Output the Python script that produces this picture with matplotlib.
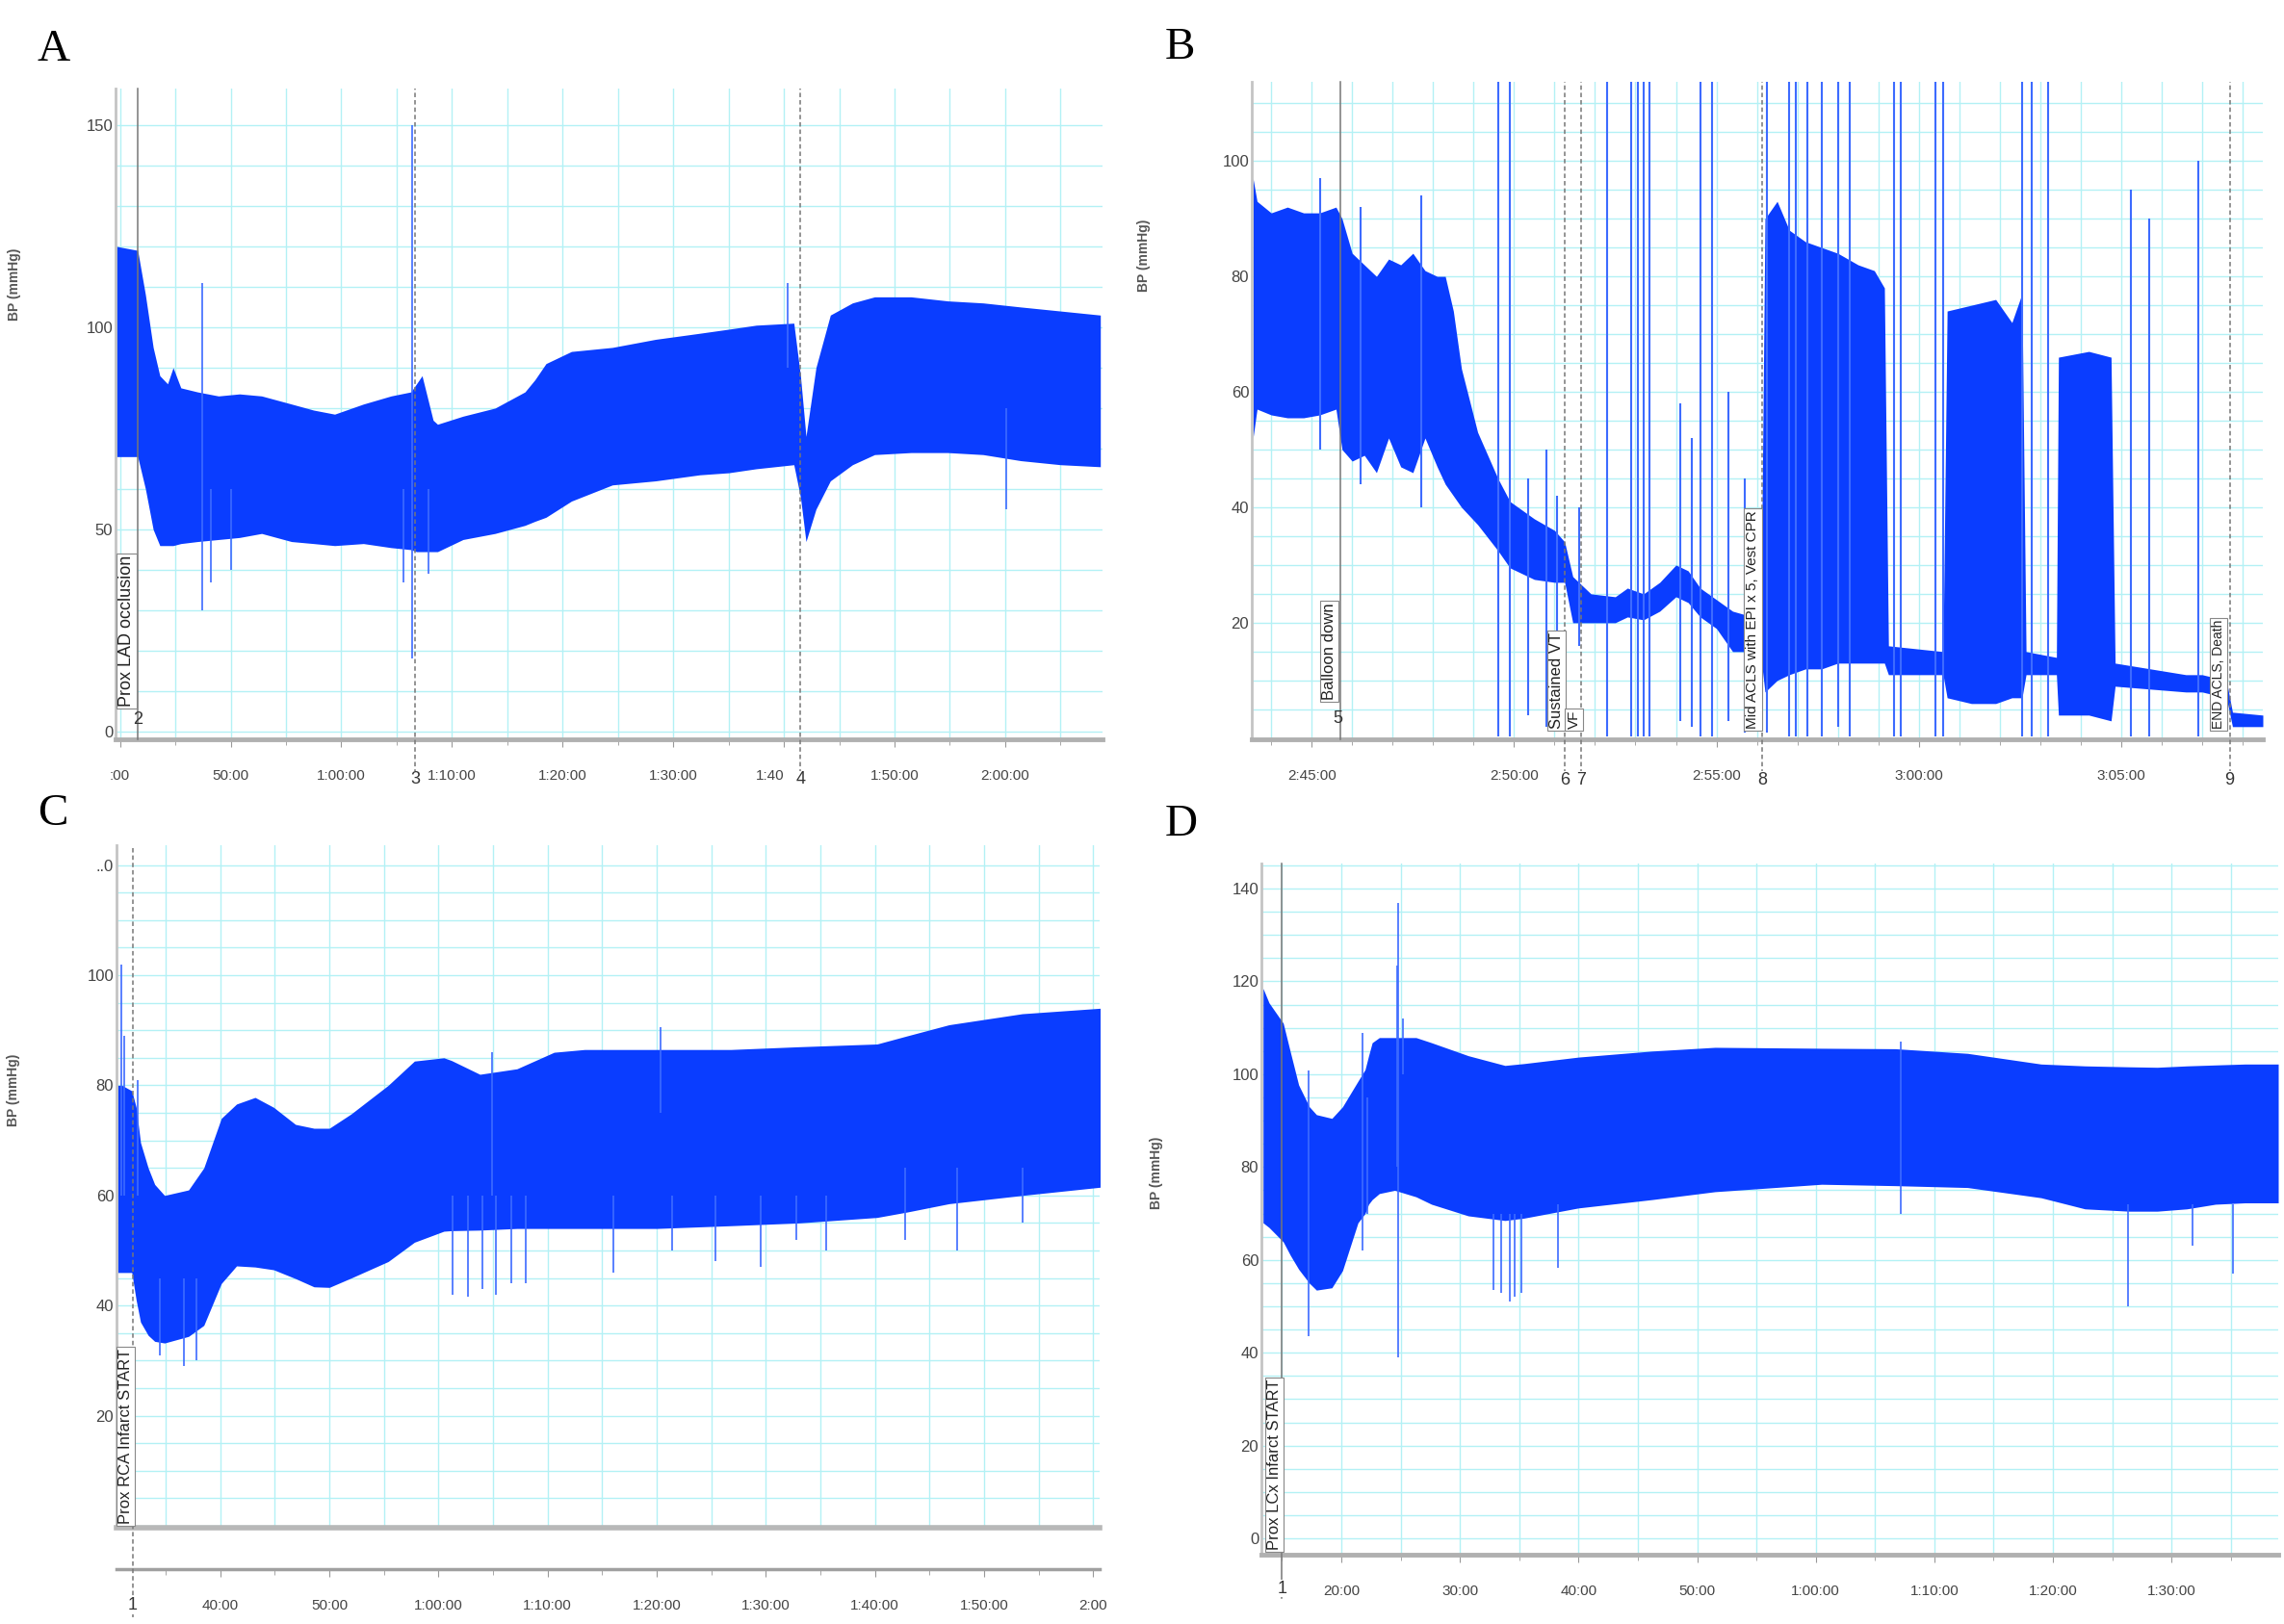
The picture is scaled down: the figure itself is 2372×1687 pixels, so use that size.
import matplotlib
matplotlib.use('Agg')
import matplotlib.pyplot as plt
from matplotlib.ticker import MultipleLocator, FixedLocator, FixedFormatter

plt.rcParams['font.family'] = ['Liberation Sans', 'DejaVu Sans']

W, H = 2372, 1687
BLUE = '#0a3dff'
SPIKE = '#3d6bff'
GRID = '#b3f1f5'

# ---- A: prox LAD occlusion (time in minutes, BP envelope in mmHg) ----
a_t = [39.65, 41.6, 42.3, 43.0, 43.6, 44.3, 44.8, 45.5, 47.0, 48.9, 50.8, 52.8, 55.5, 57.5,
       59.4, 62.0, 64.5, 66.3, 66.8, 67.3, 68.3, 68.7, 71.0, 73.9, 76.6, 77.5, 78.5, 80.8,
       84.5, 88.4, 92.4, 95.0, 97.5, 100.9, 101.5, 102.0, 102.9, 104.2, 106.2, 108.2, 111.5,
       114.8, 118.0, 121.4, 125.0, 128.6]
a_up = [120, 119, 108, 95, 88, 86, 90, 85, 84, 83, 83.5, 83, 81, 79.5, 78.5, 81, 83, 84, 86, 88,
        77, 76, 78, 80, 84, 87, 91, 94, 95, 97, 98.5, 99.5, 100.5, 101, 88, 73, 90, 103, 106,
        107.5, 107.5, 106.5, 106, 105, 104, 103]
a_lo = [68, 68, 60, 50, 46, 46, 46, 46.5, 47, 47.5, 48, 49, 47, 46.5, 46, 46.5, 45.5, 45, 44.5,
        44.5, 44.5, 44.5, 47.5, 49, 51, 52, 53, 57, 61, 62, 63.5, 64, 65, 66, 58, 47, 55, 62, 66,
        68.5, 69, 69, 68.5, 67, 66, 65.5]
a_spk_t = [47.4, 48.2, 50.0, 65.6, 66.4, 67.9, 100.3, 120.1]
a_spk_lo = [30, 37, 40, 37, 18, 39, 90, 55]
a_spk_hi = [111, 60, 60, 60, 150, 60, 111, 80]
a_xticks = [40, 50, 60, 70, 80, 90, 100, 110, 120]
a_xlabels = [':00', '50:00', '1:00:00', '1:10:00', '1:20:00', '1:30:00', '1:40', '1:50:00', '2:00:00']
a_yticks = [0, 50, 100, 150]
a_ylabels = ['0', '50', '100', '150']

# ---- B: balloon down, VT/VF, ACLS ----
b_t = [163.55, 163.65, 164.0, 164.4, 164.8, 165.2, 165.6, 165.75, 166.0, 166.3,
       166.6, 166.9, 167.2, 167.5, 167.8, 168.1, 168.3, 168.5, 168.7, 169.1,
       169.6, 169.9, 170.5, 171.0, 171.25, 171.45, 171.9, 172.5, 172.8, 173.2,
       173.6, 174.0, 174.3, 174.6, 175.0, 175.4, 175.9, 176.1, 176.2, 176.5,
       176.8, 177.2, 177.6, 178.0, 178.5, 178.9, 179.15, 179.25, 180.6, 180.7,
       181.3, 181.9, 182.3, 182.55, 182.65, 183.4, 183.45, 184.2, 184.75, 184.85,
       186.6, 187.0, 187.6, 187.75, 188.5]
b_up = [97, 93, 91, 92, 91, 91, 92, 90, 84, 82,
        80, 83, 82, 84, 81, 80, 80, 74, 64, 53,
        45, 41, 38, 36, 34, 28, 25, 24.5, 26, 25,
        27, 30, 29, 26, 24, 22, 21, 20, 90, 93,
        88, 86, 85, 84, 82, 81, 78, 16, 15, 74,
        75, 76, 72, 77, 15, 14, 66, 67, 66, 13,
        11, 11, 10, 4.5, 4]
b_lo = [52, 57, 56, 55.5, 55.5, 56, 57, 50, 48, 49,
        46, 52, 47, 46, 52, 47, 44, 42, 40, 37,
        32.5, 29.5, 27.5, 27, 27, 20, 20, 20, 21, 20.5,
        22, 24.5, 23.5, 21, 19, 15, 15, 14, 8, 10,
        11, 12, 12, 13, 13, 13, 13, 11, 11, 7,
        6, 6, 7, 7, 11, 11, 4, 4, 3, 9,
        8, 8, 7, 2, 2]
b_spk_t = [165.2, 166.2, 167.7, 169.6, 169.9, 170.35, 170.8, 171.05, 171.6, 172.3, 172.9, 173.05,
           173.2, 173.35, 174.1, 174.4, 174.6, 174.9, 175.3, 175.7, 176.25, 176.8, 176.95, 177.25,
           177.6, 178.0, 178.3, 179.4, 179.55, 180.4, 180.6, 182.55, 182.8, 183.2, 185.25, 185.7,
           186.9]
b_spk_lo = [50, 44, 40, 0.3, 0.3, 4, 2, 5, 16, 0.3, 0.3, 0.3, 0.3, 0.3, 3, 2, 0.3, 0.3, 3, 1, 1,
            0.3, 0.3, 0.3, 0.3, 2, 0.3, 0.3, 0.3, 0.3, 0.3, 0.3, 0.3, 0.3, 0.3, 0.3, 0.3]
b_spk_hi = [97, 92, 94, 118, 118, 45, 50, 42, 40, 118, 118, 118, 118, 118, 58, 52, 118, 118, 60,
            45, 118, 118, 118, 118, 118, 118, 118, 118, 118, 118, 118, 118, 118, 118, 95, 90, 100]
b_xticks = [165, 170, 175, 180, 185]
b_xlabels = ['2:45:00', '2:50:00', '2:55:00', '3:00:00', '3:05:00']
b_yticks = [20, 40, 60, 80, 100]
b_ylabels = ['20', '40', '60', '80', '100']

# ---- C: prox RCA infarct ----
c_t = [30.6, 31.0, 31.9, 32.3, 32.7, 33.4, 34.0, 34.9, 36.0, 37.1, 38.5, 40.1, 41.5, 43.2, 44.9,
       46.9, 48.6, 50.0, 52.0, 55.4, 57.8, 60.5, 61.2, 63.8, 67.2, 70.6, 73.4, 80.0, 86.8, 93.0,
       100.2, 103.0, 106.8, 113.5, 120.7]
c_up = [80, 80, 79, 76, 69.6, 65, 62, 60, 60.5, 61, 65, 74, 76.6, 77.8, 76, 72.9, 72.2, 72.2,
        74.8, 80, 84.4, 85, 84.5, 82, 83, 86, 86.5, 86.5, 86.5, 87, 87.5, 89, 91, 93, 94]
c_lo = [46, 46, 46, 41, 37, 34.6, 33.5, 33.2, 33.8, 34.4, 36.4, 44, 47.2, 47, 46.5, 44.9, 43.4,
        43.3, 45, 48, 51.5, 53.5, 53.6, 53.7, 54, 54, 54, 54, 54.5, 55, 56, 57, 58.5, 60, 61.5]
c_spk_t = [30.9, 31.2, 32.4, 34.5, 36.7, 37.8, 61.3, 62.7, 64.0, 64.9, 65.3, 66.7, 68.0, 76.0,
           80.4, 81.4, 85.4, 89.5, 92.8, 95.5, 102.8, 107.5, 113.5]
c_spk_lo = [60, 60, 60, 31, 29, 30, 42, 41.6, 43, 60, 42, 44, 44, 46, 75, 50, 48, 47, 52, 50, 52, 50, 55]
c_spk_hi = [102, 89, 81, 45, 45, 45, 60, 60, 60, 86, 60, 60, 60, 60, 90.5, 60, 60, 60, 60, 60, 65, 65, 65]
c_xticks = [40, 50, 60, 70, 80, 90, 100, 110, 120]
c_xlabels = ['40:00', '50:00', '1:00:00', '1:10:00', '1:20:00', '1:30:00', '1:40:00', '1:50:00', '2:00']
c_yticks = [20, 40, 60, 80, 100, 120]
c_ylabels = ['20', '40', '60', '80', '100', '..0']

# ---- D: prox LCx infarct ----
d_t = [13.4, 13.9, 15.1, 15.7, 16.4, 17.3, 17.9, 19.2, 20.1, 21.4, 22.0, 22.3, 22.6, 23.2, 24.5,
       26.3, 27.6, 30.7, 33.8, 35.4, 40.0, 46.2, 51.5, 60.5, 66.7, 72.8, 79.0, 82.7, 86.4, 88.8,
       91.3, 93.7, 96.2, 99.0]
d_up = [118.5, 115.4, 111, 104.8, 97.7, 93, 91.3, 90.5, 93, 98.5, 101, 104, 106.8, 107.9, 107.9,
        107.9, 106.8, 104, 101.9, 102.3, 103.7, 105, 105.8, 105.6, 105.5, 104.5, 102.2, 101.8,
        101.6, 101.5, 101.8, 102, 102.2, 102.2]
d_lo = [68, 67, 63.9, 61, 58, 55, 53.5, 54, 57.7, 68, 70, 72, 73, 74.3, 75, 73.6, 72, 69.5, 68.5,
        69, 71.2, 73, 74.7, 76.3, 76, 75.6, 73.4, 71, 70.5, 70.5, 71, 72, 72.3, 72.3]
d_spk_t = [17.2, 21.8, 22.2, 24.7, 24.8, 25.2, 32.8, 33.5, 34.2, 34.6, 35.2, 38.3, 67.2, 86.3, 91.8, 95.2]
d_spk_lo = [43.6, 62, 70, 80, 39, 100, 53.5, 53, 51, 52, 53, 58.3, 70, 50, 63, 57]
d_spk_hi = [100.8, 109, 95, 123.4, 137, 112, 70, 70, 70, 70, 70, 72, 107, 72, 72, 72]
d_xticks = [20, 30, 40, 50, 60, 70, 80, 90]
d_xlabels = ['20:00', '30:00', '40:00', '50:00', '1:00:00', '1:10:00', '1:20:00', '1:30:00']
d_yticks = [0, 20, 40, 60, 80, 100, 120, 140]
d_ylabels = ['0', '20', '40', '60', '80', '100', '120', '140']

fig = plt.figure(figsize=(W / 100, H / 100), dpi=100)


def panel(l, t, r, b, xlim, ylim, xt, xl, xminor, yt, yl, yminor):
    ax = fig.add_axes([l / W, 1 - b / H, (r - l) / W, (b - t) / H])
    ax.set_xlim(*xlim)
    ax.set_ylim(*ylim)
    for s in ['top', 'right']:
        ax.spines[s].set_visible(False)
    ax.spines['left'].set_color('#c4c4c4')
    ax.spines['left'].set_linewidth(2)
    ax.spines['bottom'].set_color('#b0b0b0')
    ax.spines['bottom'].set_linewidth(3.5)
    ax.xaxis.set_major_locator(FixedLocator(xt))
    ax.xaxis.set_major_formatter(FixedFormatter(xl))
    ax.xaxis.set_minor_locator(MultipleLocator(xminor))
    ax.yaxis.set_major_locator(FixedLocator(yt))
    ax.yaxis.set_major_formatter(FixedFormatter(yl))
    ax.yaxis.set_minor_locator(MultipleLocator(yminor))
    ax.grid(which='both', color=GRID, lw=1.0)
    ax.set_axisbelow(True)
    ax.tick_params(axis='x', which='major', length=6, color='#999999', pad=16,
                   labelsize=11, labelcolor='#444444')
    ax.tick_params(axis='x', which='minor', length=4, color='#999999')
    ax.tick_params(axis='y', which='both', length=0, pad=2, labelsize=12, labelcolor='#444444')
    return ax


def trace(ax, t, up, lo, st, slo, shi, lw=1.2):
    ax.fill_between(t, lo, up, color=BLUE, lw=0, zorder=2)
    ax.vlines(st, slo, shi, color=SPIKE, lw=lw, zorder=2)


def event(ax, x, num, num_y, line_lo, dashed=True):
    ax.axvline(x, ymin=line_lo, ymax=1, color='#777777', lw=1.1,
               ls=(0, (3, 2)) if dashed else '-', clip_on=False, zorder=4)
    if num:
        ax.text(x, num_y, num, transform=ax.get_xaxis_transform(), ha='center', va='center',
                fontsize=13, color='#333333', zorder=6,
                bbox=dict(fc='white', ec='none', pad=0.5))


def tag(ax, x, y, s, size=12):
    ax.text(x, y, s, transform=ax.get_xaxis_transform(), rotation=90, ha='center', va='bottom',
            fontsize=size, color='#222222', zorder=6,
            bbox=dict(fc='white', ec='#888888', lw=0.8, pad=1.5))


# A
axA = panel(120, 92, 1145, 768, (39.6, 128.8), (-1.9, 159), a_xticks, a_xlabels, 5,
            a_yticks, a_ylabels, 10)
trace(axA, a_t, a_up, a_lo, a_spk_t, a_spk_lo, a_spk_hi)
event(axA, 41.6, None, 0, 0, dashed=False)
event(axA, 66.7, '3', -0.062, -0.075)
event(axA, 101.5, '4', -0.062, -0.075)
axA.get_xticklabels()[6].set_ha('right')
axA.text(41.6, 0.03, '2', transform=axA.get_xaxis_transform(), ha='center', va='center',
         fontsize=13, color='#333333', zorder=6)
tag(axA, 40.6, 0.05, 'Prox LAD occlusion', 13)

# B
axB = panel(1300, 85, 2350, 768, (163.52, 188.5), (-0.2, 113.7), b_xticks, b_xlabels, 1,
            b_yticks, b_ylabels, 5)
trace(axB, b_t, b_up, b_lo, b_spk_t, b_spk_lo, b_spk_hi, lw=1.5)
event(axB, 165.7, None, 0, 0, dashed=False)
axB.text(165.65, 0.032, '5', transform=axB.get_xaxis_transform(), ha='center', va='center',
         fontsize=13, color='#333333', zorder=6)
event(axB, 171.26, '6', -0.062, -0.075)
event(axB, 171.66, '7', -0.062, -0.075)
event(axB, 176.14, '8', -0.062, -0.075)
event(axB, 187.68, '9', -0.062, -0.075)
tag(axB, 165.43, 0.06, 'Balloon down', 12)
tag(axB, 171.05, 0.016, 'Sustained VT', 12)
tag(axB, 171.48, 0.016, 'VF', 11)
tag(axB, 175.9, 0.016, 'Mid ACLS with EPI x 5, Vest CPR', 11)
tag(axB, 187.4, 0.016, 'END ACLS, Death', 10)

# C
axC = panel(121, 878, 1142, 1587, (30.5, 120.6), (-0.35, 123.6), c_xticks, c_xlabels, 5,
            c_yticks, c_ylabels, 5)
axC.spines['bottom'].set_position(('outward', 31))
axC.spines['bottom'].set_color('#a0a0a0')
axC.spines['bottom'].set_linewidth(2.5)
axC.plot([0, 1], [0, 0], transform=axC.transAxes, color='#b8b8b8', lw=4, clip_on=False, zorder=3)
trace(axC, c_t, c_up, c_lo, c_spk_t, c_spk_lo, c_spk_hi)
event(axC, 32.0, '1', -0.114, -0.131)
tag(axC, 31.36, 0.006, 'Prox RCA Infarct START', 12)

# D
axD = panel(1310, 897, 2366, 1615, (13.26, 99.0), (-3.5, 145.4), d_xticks, d_xlabels, 5,
            d_yticks, d_ylabels, 5)
trace(axD, d_t, d_up, d_lo, d_spk_t, d_spk_lo, d_spk_hi)
event(axD, 15.0, '1', -0.049, -0.063, dashed=False)
tag(axD, 14.35, 0.007, 'Prox LCx Infarct START', 12)

# panel letters and axis titles
for s, x, y in [('A', 56, 52), ('B', 1225, 50), ('C', 55, 846), ('D', 1227, 857)]:
    fig.text(x / W, 1 - y / H, s, fontsize=34, family='Liberation Serif', ha='center', va='center')
for x, y in [(15, 295), (1188, 265), (14, 1132), (1201, 1218)]:
    fig.text(x / W, 1 - y / H, 'BP (mmHg)', rotation=90, fontsize=10, weight='bold',
             color='#555555', ha='center', va='center')

fig.savefig('out.png', dpi=100)
